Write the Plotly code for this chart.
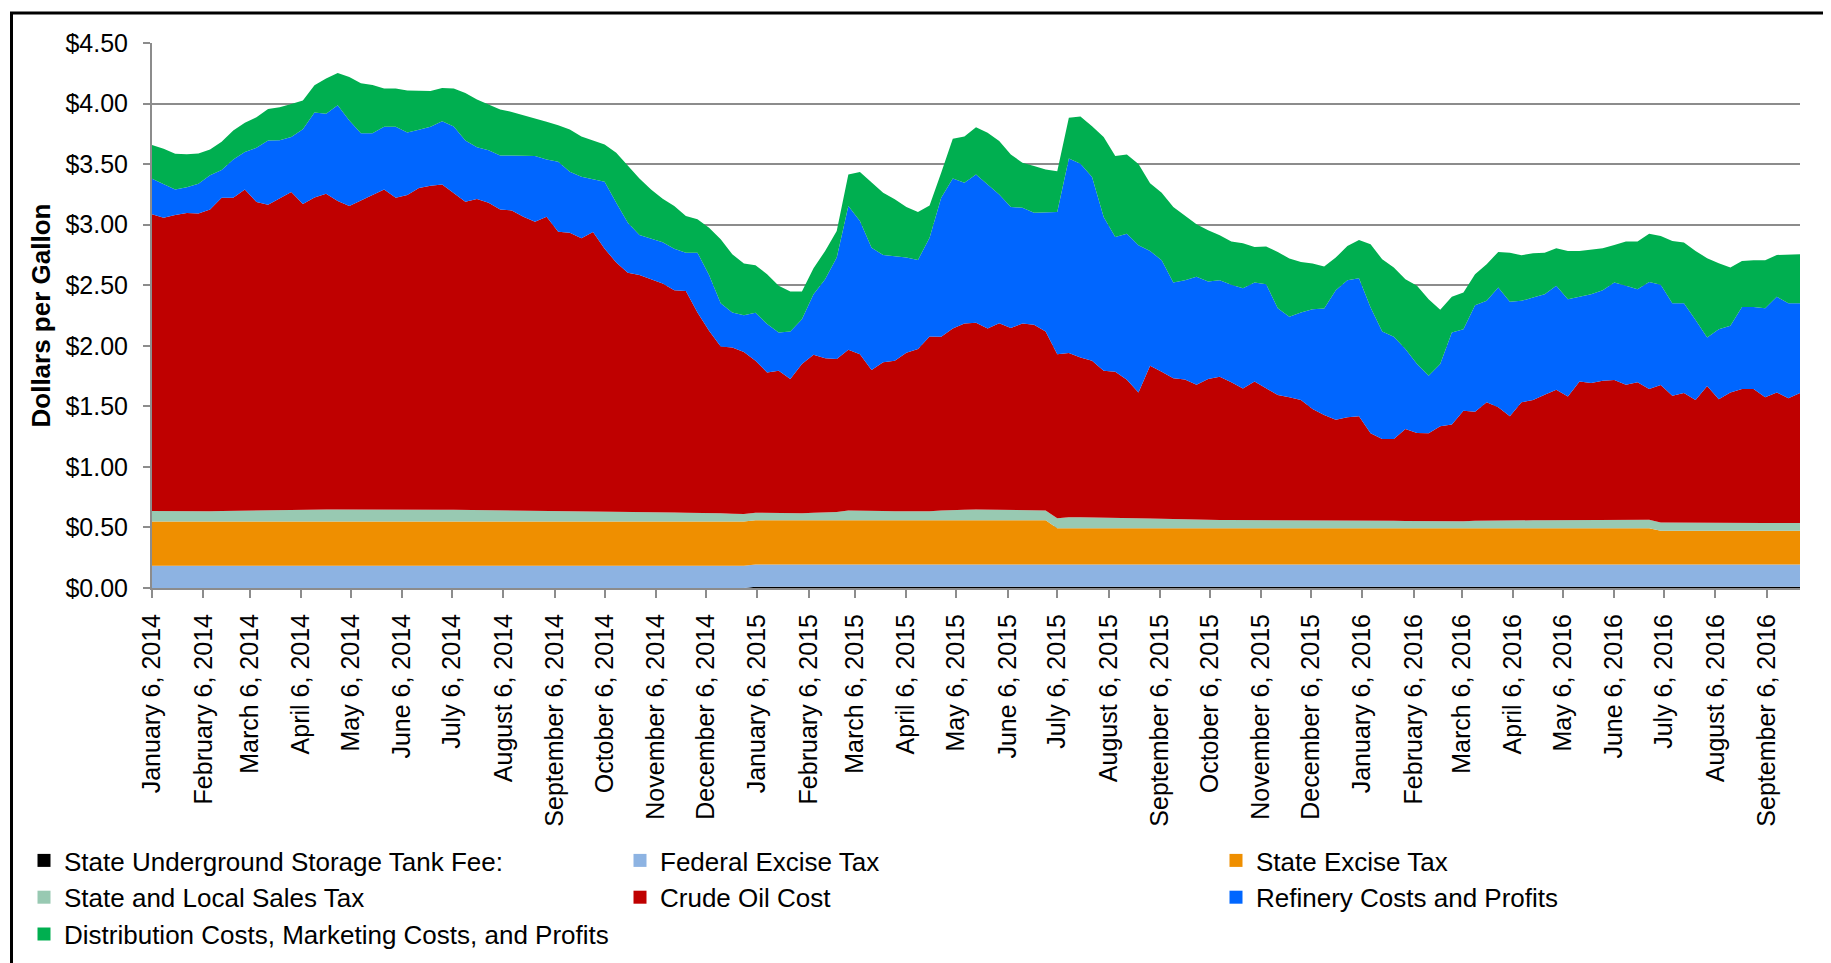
import pandas as pd
import plotly.graph_objects as go

# ---- categories (weekly, Mondays) ----
weeks = pd.date_range("2014-01-06", periods=143, freq="7D")
tick_dates = pd.date_range("2014-01-06", "2016-09-06", freq=pd.DateOffset(months=1))
tick_labels = [f"{d.strftime('%B')} 6, {d.year}" for d in tick_dates]

# ---- series values ($ per gallon) ----
ust_fee = [0.0] * 52 + [0.01] * 91
federal_excise = [0.184] * 143
state_excise = [0.365] * 78 + [0.300] * 52 + [0.278] * 13

sales_tax = [
    0.086, 0.085, 0.084, 0.084, 0.084, 0.085, 0.087, 0.089, 0.090, 0.091,
    0.093, 0.093, 0.094, 0.095, 0.098, 0.099, 0.100, 0.099, 0.098, 0.098,
    0.097, 0.097, 0.097, 0.096, 0.096, 0.097, 0.097, 0.096, 0.095, 0.094,
    0.093, 0.092, 0.092, 0.091, 0.090, 0.090, 0.089, 0.088, 0.087, 0.086,
    0.084, 0.082, 0.079, 0.077, 0.076, 0.074, 0.072, 0.072, 0.070, 0.068,
    0.065, 0.063, 0.063, 0.061, 0.059, 0.058, 0.058, 0.062, 0.065, 0.069,
    0.080, 0.081, 0.079, 0.077, 0.075, 0.074, 0.073, 0.074, 0.081, 0.087,
    0.088, 0.089, 0.088, 0.087, 0.084, 0.083, 0.082, 0.081, 0.081, 0.091,
    0.091, 0.090, 0.087, 0.084, 0.084, 0.082, 0.079, 0.077, 0.074, 0.072,
    0.071, 0.069, 0.068, 0.067, 0.067, 0.066, 0.066, 0.065, 0.064, 0.063,
    0.063, 0.062, 0.064, 0.066, 0.068, 0.067, 0.064, 0.062, 0.060, 0.059,
    0.056, 0.054, 0.056, 0.057, 0.061, 0.063, 0.065, 0.065, 0.065, 0.065,
    0.065, 0.066, 0.065, 0.065, 0.066, 0.066, 0.067, 0.067, 0.067, 0.069,
    0.068, 0.067, 0.067, 0.065, 0.064, 0.063, 0.062, 0.063, 0.064, 0.064,
    0.065, 0.065, 0.065,
]

crude_oil = [
    2.450, 2.424, 2.447, 2.463, 2.460, 2.492, 2.587, 2.585, 2.652, 2.547,
    2.523, 2.572, 2.626, 2.526, 2.578, 2.607, 2.546, 2.506, 2.554, 2.598,
    2.645, 2.577, 2.599, 2.657, 2.676, 2.686, 2.618, 2.545, 2.568, 2.538,
    2.484, 2.477, 2.425, 2.385, 2.427, 2.303, 2.296, 2.250, 2.304, 2.167,
    2.054, 1.971, 1.957, 1.926, 1.889, 1.836, 1.832, 1.654, 1.505, 1.378,
    1.372, 1.336, 1.254, 1.160, 1.176, 1.108, 1.232, 1.304, 1.274, 1.262,
    1.328, 1.291, 1.161, 1.227, 1.242, 1.309, 1.341, 1.444, 1.434, 1.497,
    1.537, 1.542, 1.496, 1.541, 1.503, 1.542, 1.532, 1.478, 1.356, 1.355,
    1.319, 1.292, 1.213, 1.208, 1.142, 1.039, 1.262, 1.215, 1.163, 1.156,
    1.114, 1.162, 1.183, 1.137, 1.087, 1.146, 1.091, 1.034, 1.016, 0.995,
    0.921, 0.873, 0.832, 0.849, 0.856, 0.717, 0.673, 0.675, 0.759, 0.727,
    0.728, 0.787, 0.799, 0.913, 0.901, 0.976, 0.933, 0.859, 0.974, 0.993,
    1.037, 1.077, 1.023, 1.147, 1.132, 1.152, 1.156, 1.118, 1.137, 1.080,
    1.136, 1.049, 1.071, 1.015, 1.132, 1.023, 1.081, 1.108, 1.107, 1.038,
    1.078, 1.029, 1.073,
]

refinery = [
    0.294, 0.274, 0.211, 0.212, 0.245, 0.281, 0.228, 0.315, 0.308, 0.448,
    0.530, 0.484, 0.454, 0.618, 0.701, 0.660, 0.791, 0.706, 0.554, 0.510,
    0.517, 0.585, 0.516, 0.481, 0.487, 0.522, 0.546, 0.505, 0.428, 0.434,
    0.445, 0.453, 0.503, 0.541, 0.472, 0.577, 0.503, 0.509, 0.434, 0.552,
    0.494, 0.414, 0.330, 0.335, 0.340, 0.343, 0.316, 0.494, 0.461, 0.357,
    0.289, 0.305, 0.396, 0.399, 0.316, 0.393, 0.371, 0.501, 0.651, 0.838,
    1.187, 1.099, 1.011, 0.887, 0.866, 0.786, 0.736, 0.816, 1.149, 1.239,
    1.162, 1.225, 1.189, 1.063, 1.000, 0.956, 0.926, 0.986, 1.173, 1.607,
    1.599, 1.517, 1.269, 1.112, 1.206, 1.215, 0.948, 0.920, 0.791, 0.819,
    0.890, 0.805, 0.796, 0.805, 0.827, 0.816, 0.857, 0.717, 0.665, 0.723,
    0.824, 0.879, 1.069, 1.132, 1.140, 1.038, 0.887, 0.843, 0.660, 0.569,
    0.475, 0.514, 0.761, 0.673, 0.879, 0.838, 0.989, 0.945, 0.838, 0.846,
    0.830, 0.858, 0.803, 0.698, 0.734, 0.747, 0.805, 0.816, 0.769, 0.884,
    0.827, 0.764, 0.742, 0.660, 0.401, 0.579, 0.550, 0.678, 0.678, 0.736,
    0.789, 0.786, 0.742,
]

distribution = [
    0.278, 0.294, 0.294, 0.274, 0.250, 0.214, 0.233, 0.239, 0.242, 0.252,
    0.261, 0.272, 0.274, 0.237, 0.225, 0.291, 0.267, 0.360, 0.413, 0.399,
    0.316, 0.316, 0.346, 0.321, 0.296, 0.275, 0.314, 0.393, 0.393, 0.377,
    0.380, 0.360, 0.335, 0.316, 0.311, 0.302, 0.349, 0.332, 0.321, 0.308,
    0.412, 0.473, 0.467, 0.404, 0.360, 0.352, 0.302, 0.275, 0.390, 0.527,
    0.480, 0.426, 0.393, 0.412, 0.385, 0.330, 0.228, 0.214, 0.234, 0.220,
    0.261, 0.404, 0.536, 0.514, 0.467, 0.418, 0.395, 0.266, 0.206, 0.327,
    0.382, 0.390, 0.426, 0.440, 0.434, 0.371, 0.385, 0.352, 0.338, 0.335,
    0.390, 0.420, 0.660, 0.668, 0.654, 0.670, 0.558, 0.558, 0.624, 0.530,
    0.434, 0.423, 0.371, 0.357, 0.371, 0.294, 0.311, 0.465, 0.481, 0.417,
    0.377, 0.346, 0.269, 0.283, 0.316, 0.522, 0.596, 0.572, 0.576, 0.646,
    0.632, 0.448, 0.294, 0.303, 0.256, 0.302, 0.294, 0.406, 0.376, 0.366,
    0.343, 0.310, 0.398, 0.379, 0.371, 0.346, 0.310, 0.365, 0.393, 0.399,
    0.404, 0.513, 0.500, 0.571, 0.654, 0.544, 0.481, 0.380, 0.385, 0.396,
    0.346, 0.403, 0.403,
]

series_names = [
    "State Underground Storage Tank Fee:",
    "Federal Excise Tax",
    "State Excise Tax",
    "State and Local Sales Tax",
    "Crude Oil Cost",
    "Refinery Costs and Profits",
    "Distribution Costs, Marketing Costs, and Profits",
]
series_values = [ust_fee, federal_excise, state_excise, sales_tax,
                 crude_oil, refinery, distribution]
series_colors = ["#000000", "#8DB3E2", "#EF8F00", "#98C9B2",
                 "#BF0000", "#0066FF", "#00AF50"]

FONT = "Liberation Sans, Arial, sans-serif"

fig = go.Figure()
for name, vals, col in zip(series_names, series_values, series_colors):
    fig.add_trace(go.Scatter(
        x=weeks, y=vals, name=name, mode="lines", stackgroup="one",
        line=dict(width=0, color=col), fillcolor=col, showlegend=False,
        hoverinfo="x+y+name",
    ))
# legend entries (square swatches)
for name, col in zip(series_names, series_colors):
    fig.add_trace(go.Scatter(
        x=[None], y=[None], mode="markers", name=name,
        marker=dict(symbol="square", size=13, color=col), showlegend=True,
    ))

W, H = 1831, 963
L, R, T, B = 144, 39, 35, 383
pw = W - L - R
ph = H - T - B

def px2paper_x(px):
    return (px - L) / pw

def px2paper_y(py):
    return (H - B - py) / ph

fig.update_layout(
    width=W, height=H,
    margin=dict(l=L, r=R, t=T, b=B, autoexpand=False),
    paper_bgcolor="white", plot_bgcolor="white",
    font=dict(family=FONT, size=25, color="black"),
    showlegend=True,
    legend=dict(
        orientation="h", traceorder="normal",
        x=px2paper_x(16), xanchor="left",
        y=px2paper_y(829), yanchor="top",
        entrywidth=551, entrywidthmode="pixels",
        font=dict(family=FONT, size=26, color="black"),
        bgcolor="rgba(0,0,0,0)", itemclick=False,
    ),
    xaxis=dict(
        type="date",
        range=[weeks[0], weeks[-1]],
        tickmode="array", tickvals=tick_dates, ticktext=tick_labels,
        tickangle=-90, ticks="outside", ticklen=8, tickwidth=1.5,
        tickcolor="#8C8C8C", ticklabelstandoff=6,
        showline=True, linecolor="#8C8C8C", linewidth=2,
        showgrid=False, zeroline=False,
        tickfont=dict(family=FONT, size=25, color="black"),
    ),
    yaxis=dict(
        range=[0, 4.5], dtick=0.5, tick0=0,
        tickprefix="$", tickformat=".2f",
        ticks="outside", ticklen=7, tickwidth=1.5, tickcolor="#8C8C8C",
        ticklabelstandoff=10,
        showline=True, linecolor="#8C8C8C", linewidth=2,
        showgrid=True, gridcolor="#8C8C8C", gridwidth=1.5,
        zeroline=False,
        tickfont=dict(family=FONT, size=25, color="black"),
    ),
    annotations=[dict(
        text="<b>Dollars per Gallon</b>", xref="paper", yref="paper",
        x=px2paper_x(32), y=0.5, xanchor="center", yanchor="middle",
        textangle=-90, showarrow=False,
        font=dict(family=FONT, size=26, color="black"),
    )],
    shapes=[dict(
        type="rect", xref="paper", yref="paper",
        x0=px2paper_x(3.5), x1=px2paper_x(1826), y0=px2paper_y(966), y1=px2paper_y(5),
        line=dict(color="black", width=3), fillcolor="rgba(0,0,0,0)", layer="above",
    )],
)

fig.write_html("out.html")
